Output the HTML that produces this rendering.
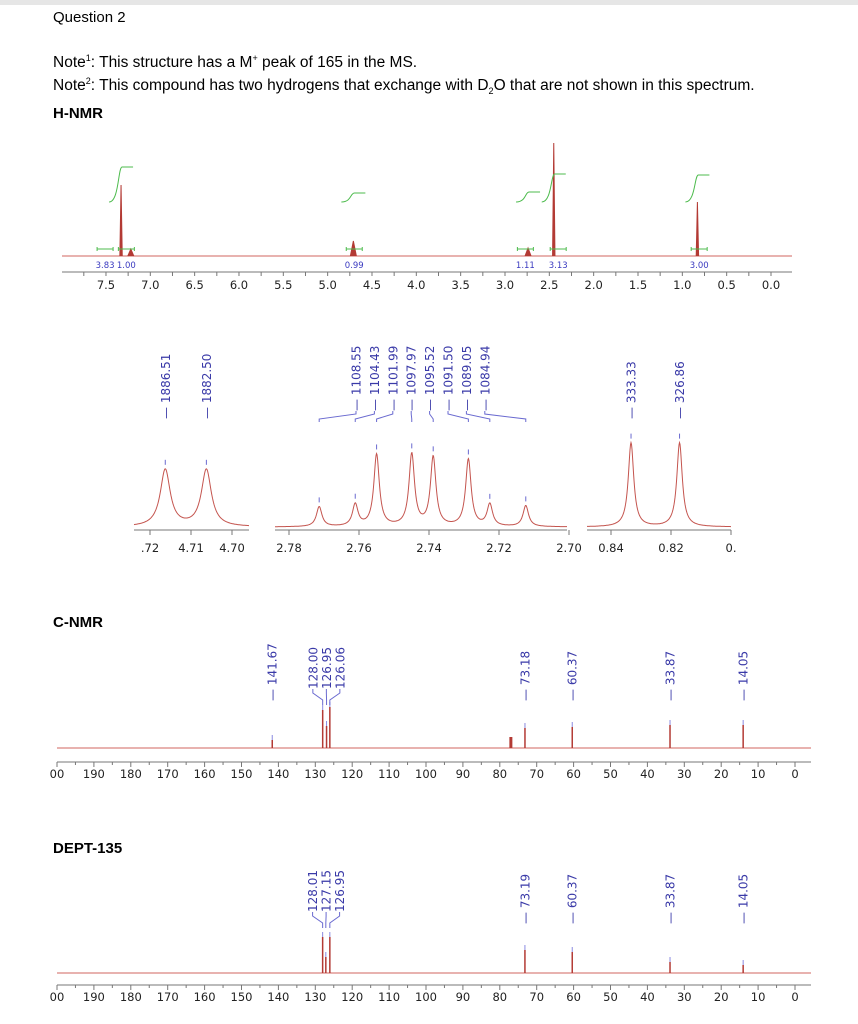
<!DOCTYPE html>
<html><head><meta charset="utf-8">
<style>
html,body{margin:0;padding:0;background:#fff;}
body{width:858px;height:1024px;overflow:hidden;position:relative;}
svg{position:absolute;left:0;top:0;}
.hd{font-family:"Liberation Sans",sans-serif;fill:#000;}
.lab{font-family:"DejaVu Sans","Liberation Sans",sans-serif;font-size:11.5px;fill:#222;}
.pk{font-family:"DejaVu Sans","Liberation Sans",sans-serif;font-size:12px;fill:#3a3aa8;}
.int{font-family:"DejaVu Sans","Liberation Sans",sans-serif;font-size:8.5px;fill:#3a3ac0;}
</style></head>
<body>
<svg id="chart" width="858" height="1024" viewBox="0 0 858 1024">
  <rect x="0" y="0" width="858" height="5" fill="#e6e6e6"/>
  <text class="hd" x="53" y="22" font-size="15">Question 2</text>
  <text class="hd" x="53" y="67" font-size="15.5">Note<tspan font-size="9" dy="-6">1</tspan><tspan dy="6">: This structure has a M</tspan><tspan font-size="9" dy="-6">+</tspan><tspan dy="6"> peak of 165 in the MS.</tspan></text>
  <text class="hd" x="53" y="90" font-size="15.5">Note<tspan font-size="9" dy="-6">2</tspan><tspan dy="6">: This compound has two hydrogens that exchange with D</tspan><tspan font-size="9" dy="4">2</tspan><tspan dy="-4">O that are not shown in this spectrum.</tspan></text>
  <text class="hd" x="53" y="118" font-size="15" font-weight="bold">H-NMR</text>
  <text class="hd" x="53" y="627" font-size="15" font-weight="bold">C-NMR</text>
  <text class="hd" x="53" y="853" font-size="15" font-weight="bold">DEPT-135</text>
  <g id="g"></g>
</svg>
<script>
// ---------- data ----------
const hPeakPpm = [7.33, 7.22, 4.71, 2.74, 2.45, 0.83];
const hPeakHeight = [71, 7, 15, 8, 113, 54];
const hIntLabels = ["3.83", "1.00", "0.99", "1.11", "3.13", "3.00"];
const hIntPpm = [7.51, 7.27, 4.70, 2.77, 2.40, 0.81];
const hIntStepPpm = [7.33, 4.71, 2.74, 2.45, 0.83];
const hIntStepHeight = [35, 9, 10, 28, 27];
const hTicks = ["7.5","7.0","6.5","6.0","5.5","5.0","4.5","4.0","3.5","3.0","2.5","2.0","1.5","1.0","0.5","0.0"];

const ex1Hz = [1886.51, 1882.50];
const ex1Height = [57, 57];
const ex1Ticks = [".72", "4.71", "4.70"];
const ex2Hz = [1108.55, 1104.43, 1101.99, 1097.97, 1095.52, 1091.50, 1089.05, 1084.94];
const ex2Height = [20, 22, 72, 72, 69, 67, 22, 21];
const ex2Ticks = ["2.78", "2.76", "2.74", "2.72", "2.70"];
const ex3Hz = [333.33, 326.86];
const ex3Height = [84, 84];
const ex3Ticks = ["0.84", "0.82", "0."];

const cPeakPpm = [141.67, 128.00, 126.95, 126.06, 77.0, 73.18, 60.37, 33.87, 14.05];
const cPeakHeight = [8, 38, 22, 41, 11, 20, 21, 23, 23];
const cLabels = ["141.67", "128.00", "126.95", "126.06", "", "73.18", "60.37", "33.87", "14.05"];
const cTicks = ["00","190","180","170","160","150","140","130","120","110","100","90","80","70","60","50","40","30","20","10","0"];

const dPeakPpm = [128.01, 127.15, 126.06, 73.19, 60.37, 33.87, 14.05];
const dPeakHeight = [36, 16, 36, 23, 21, 11, 8];
const dLabels = ["128.01", "127.15", "126.95", "73.19", "60.37", "33.87", "14.05"];

// ---------- helpers ----------
const NS = "http://www.w3.org/2000/svg";
const G = document.getElementById("g");
function mk(tag, attrs, parent) {
  const e = document.createElementNS(NS, tag);
  for (const k in attrs) e.setAttribute(k, attrs[k]);
  (parent || G).appendChild(e);
  return e;
}
const RED = "#b33a34", BASE = "#d9837f", BLUE = "#3a3aa8", GREEN = "#4cbb4c";

// ---------- H-NMR ----------
const hx = p => 771 - 88.67 * p;
const hBase = 256;
let e = mk("line", {x1: 62, y1: hBase, x2: 792, y2: hBase, stroke: BASE, "stroke-width": 1.3});


hPeakPpm.forEach((p, i) => {
  const x = hx(p), w = hPeakHeight[i] > 20 ? 1.2 : 3;
  const el = mk("path", {d: `M${x - w},${hBase} L${x},${hBase - hPeakHeight[i]} L${x + w},${hBase}`, fill: RED, stroke: RED, "stroke-width": 1});
  
  
});
hIntStepPpm.forEach((p, i) => {
  const x = hx(p), h = hIntStepHeight[i], y0 = 202;
  const el = mk("path", {d: `M${x - 12},${y0} C${x - 2},${y0} ${x - 3},${y0 - h} ${x + 1},${y0 - h} L${x + 12},${y0 - h}`, fill: "none", stroke: GREEN, "stroke-width": 1});
  
  
});
hIntLabels.forEach((t, i) => {
  const x = hx(hIntPpm[i]);
  const br = mk("path", {d: `M${x - 8},247 L${x - 8},251 M${x - 8},249 L${x + 8},249 M${x + 8},247 L${x + 8},251`, stroke: GREEN, "stroke-width": 1, fill: "none"});
  
  
  const el = mk("text", {class: "int", x: x, y: 268, "text-anchor": "middle"});
  el.textContent = t;
  
  
});
e = mk("line", {x1: 62, y1: 272, x2: 792, y2: 272, stroke: "#777", "stroke-width": 1});


for (let p = 7.75; p >= -0.2; p -= 0.25) {
  const t = mk("line", {x1: hx(p), y1: 272, x2: hx(p), y2: 276, stroke: "#777"});
  
  
}
hTicks.forEach(t => {
  const el = mk("text", {class: "lab", x: hx(parseFloat(t)), y: 289, "text-anchor": "middle"});
  el.textContent = t;
  
  
});

// ---------- expansions ----------
function lor(xs, hs, w, x) { let s = 0; for (let i = 0; i < xs.length; i++) s += hs[i] / (1 + ((x - xs[i]) / w) ** 2); return s; }
function expansion(name, hz, hts, ticks, xmap, x0, x1, hw, labelXs) {
  const base = 527, xs = hz.map(h => xmap(h / 400));
  let d = "";
  for (let x = x0; x <= x1; x += 0.5) d += (d ? "L" : "M") + x.toFixed(1) + "," + (base - lor(xs, hts, hw, x)).toFixed(1);
  const c = mk("path", {d: d, fill: "none", stroke: "#c4544e", "stroke-width": 1});
  
  
  xs.forEach((x, i) => {
    const top = base - lor(xs, hts, hw, x);
    const m = mk("line", {x1: x, y1: top - 9, x2: x, y2: top - 4, stroke: "#6a6ad0"});
    
    
    const lx = labelXs ? labelXs[i] : x;
    if (labelXs) {
      const cn = mk("path", {d: `M${x},422 L${x},419 L${lx},414 L${lx},411`, fill: "none", stroke: "#6a6ad0", "stroke-width": 1});
      
      
    }
    const t = mk("text", {class: "pk", x: 0, y: 0, transform: `translate(${lx + 4.5},${labelXs ? 411 : 419}) rotate(-90)`});
    t.textContent = "— " + hz[i].toFixed(2);
    
    
  });
  const ax = mk("line", {x1: x0, y1: 530, x2: x1, y2: 530, stroke: "#777"});
  
  
  ticks.forEach(t => {
    let v = parseFloat(t); if (t === ".72") v = 4.72; if (t === "0.") v = 0.80;
    const x = xmap(v);
    const tk = mk("line", {x1: x, y1: 530, x2: x, y2: 535, stroke: "#777"});
    
    
    const el = mk("text", {class: "lab", x: x, y: 552, "text-anchor": "middle", "font-size": "12.5"});
    el.textContent = t;
    
    
  });
}
expansion("expansion-4-70", ex1Hz, ex1Height, ex1Ticks, p => 191 - (p - 4.71) * 4100, 134, 249, 6, null);
const ex2LabelX = ex2Hz.map((_, i) => 356 + i * 18.4);
expansion("expansion-2-74", ex2Hz, ex2Height, ex2Ticks, p => 289 + (2.78 - p) * 3500, 275, 567, 3.3, ex2LabelX);
expansion("expansion-0-83", ex3Hz, ex3Height, ex3Ticks, p => 671 - (p - 0.82) * 3000, 587, 731, 3.3, null);

// ---------- C-NMR & DEPT ----------
const cx = p => 795 - 3.69 * p;
function carbon(name, ppm, hts, labels, base, axisY, labTop) {
  const b = mk("line", {x1: 57, y1: base, x2: 811, y2: base, stroke: BASE, "stroke-width": 1.3});
  
  
  const xs = ppm.map(cx);
  const idx = xs.map((_, i) => i).filter(i => labels[i]);
  const lxs = {};
  let groups = [], cur = [];
  idx.forEach(i => {
    if (cur.length && xs[i] - xs[cur[cur.length - 1]] < 13) cur.push(i);
    else { if (cur.length) groups.push(cur); cur = [i]; }
  });
  if (cur.length) groups.push(cur);
  groups.forEach(gp => {
    const c = gp.reduce((s, i) => s + xs[i], 0) / gp.length;
    gp.forEach((i, k) => { lxs[i] = { x: c + (k - (gp.length - 1) / 2) * 13.5, crowd: gp.length > 1 }; });
  });
  ppm.forEach((p, i) => {
    const x = xs[i];
    const l = mk("line", {x1: x, y1: base, x2: x, y2: base - hts[i], stroke: RED, "stroke-width": labels[i] ? 1.5 : 3});
    
    
    if (!labels[i]) return;
    const m = mk("line", {x1: x, y1: base - hts[i] - 5, x2: x, y2: base - hts[i], stroke: "#8a8ae0"});
    
    
    const L = lxs[i];
    let ty = labTop;
    if (L.crowd) {
      ty = labTop - 12;
      const cn = mk("path", {d: `M${x},${labTop + 4} L${x},${labTop - 1} L${L.x},${labTop - 8} L${L.x},${labTop - 12}`, fill: "none", stroke: "#6a6ad0", "stroke-width": 1});
      
      
    }
    const t = mk("text", {class: "pk", x: 0, y: 0, transform: `translate(${L.x + 4.5},${ty}) rotate(-90)`});
    t.textContent = (L.crowd ? "" : "— ") + labels[i];
    
    
  });
  const ax = mk("line", {x1: 57, y1: axisY, x2: 811, y2: axisY, stroke: "#777"});
  
  
  for (let p = 200; p >= -4; p -= 5) {
    const tk = mk("line", {x1: cx(p), y1: axisY, x2: cx(p), y2: axisY + (p % 10 ? 3 : 5), stroke: "#777"});
    
    
  }
  cTicks.forEach((t, i) => {
    const v = 200 - i * 10;
    const el = mk("text", {class: "lab", x: cx(v), y: axisY + 16, "text-anchor": "middle"});
    el.textContent = t;
    
    
  });
}
carbon("c-nmr", cPeakPpm, cPeakHeight, cLabels, 748, 762, 701);
carbon("dept", dPeakPpm, dPeakHeight, dLabels, 973, 985, 924);
</script>
</body></html>
